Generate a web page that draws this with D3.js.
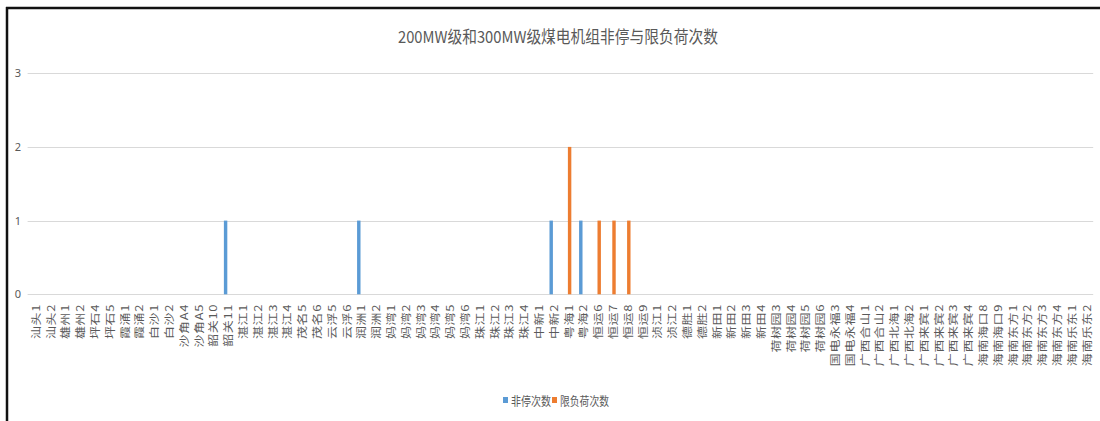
<!DOCTYPE html>
<html>
<head>
<meta charset="utf-8">
<script src="https://cdn.jsdelivr.net/npm/d3@7"></script>
<style>
  html, body { margin: 0; padding: 0; background: #fff; }
  svg { display: block; }
  text { font-family: "Noto Sans CJK SC", "Noto Sans", sans-serif; fill: #595959; }
</style>
</head>
<body>
<svg id="chart" width="1100" height="421"></svg>
<script>
// Generating units (category axis)
const categories = [
  "汕头1","汕头2","雄州1","雄州2","坪石4","坪石5","霞涌1","霞涌2","白沙1","白沙2",
  "沙角A4","沙角A5","韶关10","韶关11","湛江1","湛江2","湛江3","湛江4","茂名5","茂名6",
  "云浮5","云浮6","润洲1","润洲2","妈湾1","妈湾2","妈湾3","妈湾4","妈湾5","妈湾6",
  "珠江1","珠江2","珠江3","珠江4","中新1","中新2","粤海1","粤海2","恒运6","恒运7",
  "恒运8","恒运9","浈江1","浈江2","德胜1","德胜2","新田1","新田2","新田3","新田4",
  "荷树园3","荷树园4","荷树园5","荷树园6","国电永福3","国电永福4","广西合山1","广西合山2","广西北海1","广西北海2",
  "广西来宾1","广西来宾2","广西来宾3","广西来宾4","海南海口8","海南海口9","海南东方1","海南东方2","海南东方3","海南东方4",
  "海南乐东1","海南乐东2"
];

// Unplanned outage counts per unit
const outageCounts = [
  0,0,0,0,0,0,0,0,0,0,
  0,0,0,1,0,0,0,0,0,0,
  0,0,1,0,0,0,0,0,0,0,
  0,0,0,0,0,1,0,1,0,0,
  0,0,0,0,0,0,0,0,0,0,
  0,0,0,0,0,0,0,0,0,0,
  0,0,0,0,0,0,0,0,0,0,
  0,0
];

// Load-limitation counts per unit
const limitCounts = [
  0,0,0,0,0,0,0,0,0,0,
  0,0,0,0,0,0,0,0,0,0,
  0,0,0,0,0,0,0,0,0,0,
  0,0,0,0,0,0,2,0,1,1,
  1,0,0,0,0,0,0,0,0,0,
  0,0,0,0,0,0,0,0,0,0,
  0,0,0,0,0,0,0,0,0,0,
  0,0
];

const seriesNames = ["非停次数", "限负荷次数"];
const yTicks = [0, 1, 2, 3];
const titleText = "200MW级和300MW级煤电机组非停与限负荷次数";

const colors = ["#5B9BD5", "#ED7D31"];
const squeeze = 0.8;

const svg = d3.select("#chart");

// frame edges
svg.append("line").attr("x1", 6).attr("x2", 1100).attr("y1", 8).attr("y2", 8)
  .attr("stroke", "#111").attr("stroke-width", 2.5);
svg.append("line").attr("x1", 7).attr("x2", 7).attr("y1", 7).attr("y2", 421)
  .attr("stroke", "#111").attr("stroke-width", 2.5);

const x0 = d3.scaleBand().domain(categories).range([27.6, 1093.2])
  .paddingInner(0.5).paddingOuter(0.25);
const x1 = d3.scaleBand().domain(seriesNames).range([0, x0.bandwidth()]).padding(0.05);
const y = d3.scaleLinear().domain([0, 3]).range([294.3, 73.2]);

// horizontal gridlines
svg.append("g").selectAll("line").data(yTicks).join("line")
  .attr("x1", 27.6).attr("x2", 1093.2)
  .attr("y1", d => Math.round(y(d)) + 0.5).attr("y2", d => Math.round(y(d)) + 0.5)
  .attr("stroke", "#D9D9D9").attr("stroke-width", 1.2);

// y axis labels
const yAxis = d3.axisLeft(y).tickValues(yTicks).tickSize(0).tickPadding(0).tickFormat(d3.format("d"));
const gy = svg.append("g").attr("transform", "translate(21,0)").call(yAxis);
gy.select(".domain").remove();
gy.selectAll("text").attr("font-size", 11).style("font-family", "'Noto Sans', sans-serif")
  .attr("fill", "#666");

// bars
const rows = categories.map((c, i) => ({ cat: c, vals: [outageCounts[i], limitCounts[i]] }));
svg.append("g").selectAll("g").data(rows).join("g")
  .attr("transform", d => `translate(${x0(d.cat)},0)`)
  .selectAll("rect").data(d => d.vals.map((v, k) => ({ k, v }))).join("rect")
  .attr("x", d => x1(seriesNames[d.k]))
  .attr("width", x1.bandwidth())
  .attr("y", d => y(d.v))
  .attr("height", d => y(0) - y(d.v))
  .attr("fill", d => colors[d.k]);

// category axis labels (vertical)
const xAxis = d3.axisBottom(x0).tickSize(0).tickPadding(0);
const gx = svg.append("g").call(xAxis);
gx.select(".domain").remove();
gx.selectAll(".tick").attr("transform", null);
gx.selectAll(".tick text")
  .attr("y", null).attr("dy", null)
  .attr("text-anchor", "end")
  .attr("dominant-baseline", "central")
  .attr("font-size", 13)
  .attr("letter-spacing", 0.6)
  .attr("fill", "#707070")
  .attr("transform", d => `translate(${x0(d) + x0.bandwidth() / 2},304) scale(${squeeze},1) rotate(-90)`);

// title
svg.append("text").attr("x", 558).attr("y", 43).attr("text-anchor", "middle")
  .attr("font-size", 16.5).attr("textLength", 320).attr("lengthAdjust", "spacingAndGlyphs")
  .attr("fill", "#5f5f5f")
  .text(titleText);

// legend
const legendItems = [
  { name: seriesNames[0], color: colors[0], x: 503, w: 40 },
  { name: seriesNames[1], color: colors[1], x: 552, w: 49 }
];
const lg = svg.append("g");
lg.selectAll("rect").data(legendItems).join("rect")
  .attr("x", d => d.x).attr("y", 397).attr("width", 5).attr("height", 6)
  .attr("fill", d => d.color);
lg.selectAll("text").data(legendItems).join("text")
  .attr("x", d => d.x + 8).attr("y", 400).attr("dominant-baseline", "central")
  .attr("font-size", 12).attr("textLength", d => d.w).attr("lengthAdjust", "spacingAndGlyphs")
  .attr("fill", "#666")
  .text(d => d.name);
</script>
</body>
</html>
